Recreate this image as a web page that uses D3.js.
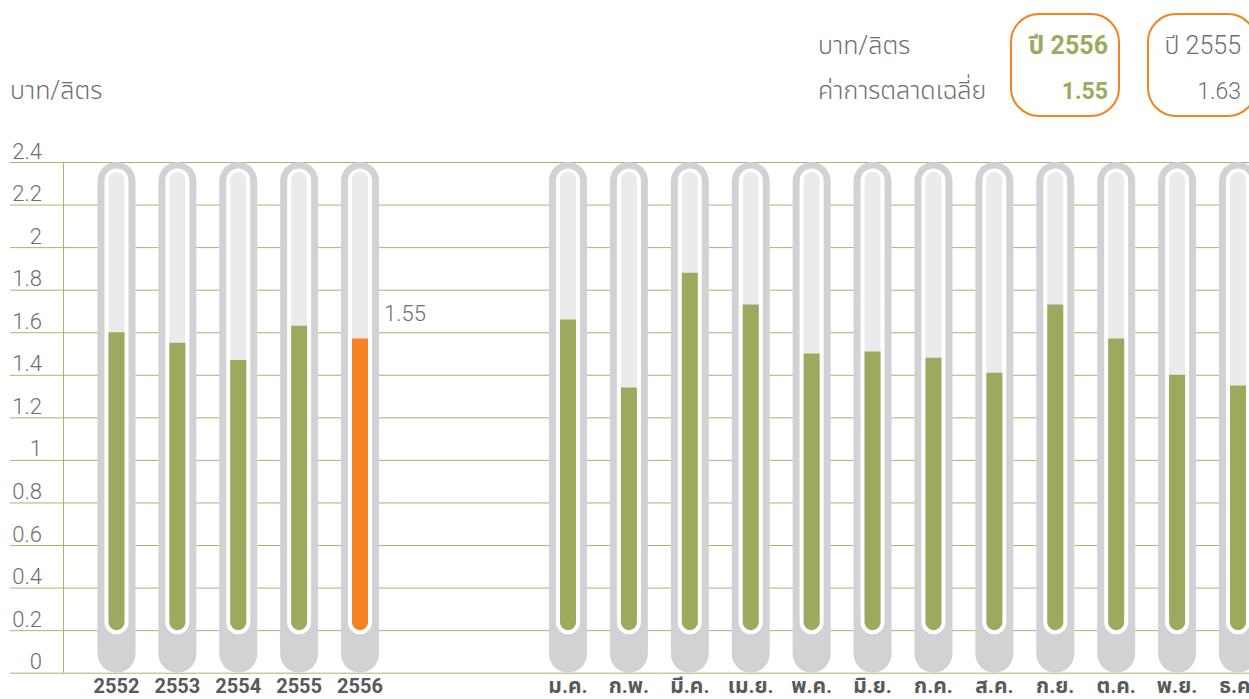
<!DOCTYPE html>
<html>
<head>
<meta charset="utf-8">
<script src="https://cdn.jsdelivr.net/npm/d3@7"></script>
<style>
  body { margin: 0; background: #fff; }
  svg { display: block; font-family: Roboto, "Noto Sans Thai", "Noto Sans", sans-serif; }
</style>
</head>
<body>
<svg id="chart" width="1249" height="699"></svg>
<script>
/* data */
var years = ['2552', '2553', '2554', '2555', '2556'];
var yearValues = [1.60, 1.55, 1.47, 1.63, 1.57];
var months = ['ม.ค.', 'ก.พ.', 'มี.ค.', 'เม.ย.', 'พ.ค.', 'มิ.ย.', 'ก.ค.', 'ส.ค.', 'ก.ย.', 'ต.ค.', 'พ.ย.', 'ธ.ค.'];
var monthValues = [1.66, 1.34, 1.88, 1.73, 1.50, 1.51, 1.48, 1.41, 1.73, 1.57, 1.40, 1.35];
var highlightYear = '2556';
var highlightLabel = '1.55';
var summary = [
    { year: 'ปี 2556', value: '1.55', current: true },
    { year: 'ปี 2555', value: '1.63', current: false }
];

var green = '#9caa5e';
var orange = '#f58220';
var outerGray = '#d1d2d4';
var innerGray = '#ebebeb';
var gridColor = '#a9b470';
var textGray = '#6d6e71';

var svg = d3.select('#chart');

let y = d3.scaleLinear().domain([0, 2.4]).range([672.7, 162]);
let xYear = d3.scalePoint().domain(years).range([116.5, 360]);
let xMonth = d3.scalePoint().domain(months).range([568, 1238]);

/* grid + tick labels */
var grid = svg.append('g')
    .attr('transform', 'translate(10,0)')
    .call(d3.axisLeft(y).tickValues(d3.range(0, 13).map(i => i / 5))
        .tickSize(-1239)
        .tickFormat(t => String(+t.toFixed(1))));
grid.select('.domain').remove();
grid.selectAll('.tick line').attr('stroke', gridColor).attr('stroke-width', 1);
grid.selectAll('.tick text')
    .attr('x', 32)
    .attr('dy', -4)
    .attr('text-anchor', 'end')
    .style('font-size', '22px')
    .style('font-weight', 300)
    .style('font-family', 'Roboto, sans-serif')
    .attr('fill', textGray);

svg.append('line')
    .attr('x1', 63.5).attr('x2', 63.5)
    .attr('y1', y(2.4)).attr('y2', y(0))
    .attr('stroke', gridColor);

/* thermometer bars */
function barPath(cx, yt, yb, w){
    var r = w / 2;
    return `M${cx - r},${yt}H${cx + r}V${yb - r}A${r},${r} 0 0 1 ${cx - r},${yb - r}Z`;
}

function drawBars(cats, vals, xs, cls, fs){
    var g = svg.append('g').attr('class', cls);
    var items = cats.map((c, i) => ({ cat: c, val: vals[i] }));
    var bar = g.selectAll('g.bar').data(items).join('g').attr('class', 'bar')
        .attr('transform', d => `translate(${xs(d.cat)},0)`);

    bar.append('rect')
        .attr('x', -19).attr('width', 38)
        .attr('y', y(2.4)).attr('height', y(0) - y(2.4))
        .attr('rx', 19).attr('fill', outerGray);
    bar.append('rect')
        .attr('x', -12).attr('width', 24)
        .attr('y', y(2.4) + 6.5).attr('height', y(0.2) + 4 - y(2.4) - 6.5)
        .attr('rx', 12).attr('fill', '#fff');
    bar.append('rect')
        .attr('x', -8).attr('width', 16)
        .attr('y', y(2.4) + 10).attr('height', y(0.2) - y(2.4) - 10)
        .attr('rx', 8).attr('fill', innerGray);
    bar.append('path')
        .attr('d', d => barPath(0, y(d.val), y(0.2), 16))
        .attr('fill', d => d.cat === highlightYear ? orange : green);

    bar.append('text')
        .attr('y', 693)
        .attr('text-anchor', 'middle')
        .style('font-size', fs)
        .style('font-weight', 700)
        .attr('fill', '#58595b')
        .text(d => d.cat);
}

drawBars(years, yearValues, xYear, 'years', '20px');
drawBars(months, monthValues, xMonth, 'months', '21px');

svg.append('text')
    .attr('x', xYear(highlightYear) + 24)
    .attr('y', 321)
    .style('font-size', '22px')
    .style('font-weight', 300)
    .attr('fill', textGray)
    .text(highlightLabel);

/* unit label */
svg.append('text')
    .attr('x', 10).attr('y', 99)
    .style('font-size', '25px').style('font-weight', 300)
    .attr('fill', textGray)
    .text('บาท/ลิตร');

/* summary boxes */
svg.append('text')
    .attr('x', 818).attr('y', 54)
    .style('font-size', '25px').style('font-weight', 300)
    .attr('fill', textGray)
    .text('บาท/ลิตร');
svg.append('text')
    .attr('x', 818).attr('y', 99)
    .style('font-size', '25px').style('font-weight', 300)
    .attr('fill', textGray)
    .text('ค่าการตลาดเฉลี่ย');

var boxX = [1011, 1148];
var box = svg.selectAll('g.box').data(summary).join('g').attr('class', 'box')
    .attr('transform', (d, i) => `translate(${boxX[i]},14)`);
box.append('rect')
    .attr('width', 108).attr('height', 102)
    .attr('rx', 28)
    .attr('fill', 'none')
    .attr('stroke', orange)
    .attr('stroke-width', 2);
box.append('text')
    .attr('x', (d, i) => i === 0 ? 97 : 93).attr('y', 40)
    .attr('text-anchor', 'end')
    .style('font-size', '25px')
    .style('font-weight', d => d.current ? 700 : 300)
    .attr('fill', d => d.current ? green : textGray)
    .text(d => d.year);
box.append('text')
    .attr('x', (d, i) => i === 0 ? 97 : 93).attr('y', 85)
    .attr('text-anchor', 'end')
    .style('font-size', '23px')
    .style('font-weight', d => d.current ? 700 : 300)
    .attr('fill', d => d.current ? green : textGray)
    .text(d => d.value);
</script>
</body>
</html>
